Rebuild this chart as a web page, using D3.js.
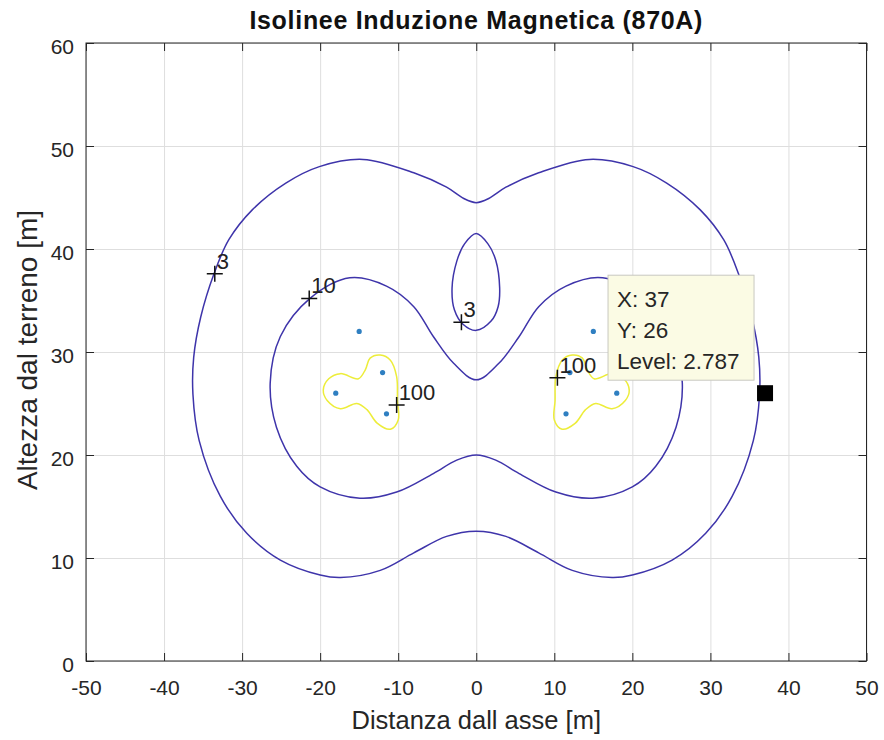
<!DOCTYPE html>
<html>
<head>
<meta charset="utf-8">
<script src="https://cdn.jsdelivr.net/npm/d3@7"></script>
<style>
  html, body { margin: 0; padding: 0; background: #ffffff; }
  svg { display: block; font-family: "Liberation Sans", Arial, Helvetica, sans-serif; }
</style>
</head>
<body>
<svg id="chart" width="884" height="740"></svg>
<script>
// ---------- data ----------
const titleText = "Isolinee Induzione Magnetica (870A)";
const xLabelText = "Distanza dall asse [m]";
const yLabelText = "Altezza dal terreno [m]";

const xTicks = [-50, -40, -30, -20, -10, 0, 10, 20, 30, 40, 50];
const yTicks = [0, 10, 20, 30, 40, 50, 60];

// conductor positions
const conductorX = [-15, -12, -18, -11.5, 15, 12, 18, 11.5];
const conductorY = [32, 28, 26, 24, 32, 28, 26, 24];

// contour lines
const outer3 = [[0,44.5],[1.6,44.9],[3.8,46.0],[8,47.4],[14.5,48.7],[20.1,48.0],[24.4,46.4],[28.7,43.8],[31.7,40.9],[33.6,37.6],[35.3,33.4],[36.2,29.5],[36.3,25.9],[35.5,21.4],[32.8,16.0],[29.4,12.4],[25.1,9.8],[20,8.35],[17.4,8.1],[12.3,8.8],[8,10.5],[3.8,12.1],[0,12.6],[-3.8,12.1],[-8,10.5],[-12.3,8.8],[-17.4,8.1],[-20,8.35],[-25.1,9.8],[-29.4,12.4],[-32.8,16.0],[-35.5,21.4],[-36.3,25.9],[-36.2,29.5],[-35.3,33.4],[-33.6,37.6],[-31.7,40.9],[-28.7,43.8],[-24.4,46.4],[-20.1,48.0],[-14.5,48.7],[-8,47.4],[-3.8,46.0],[-1.6,44.9]];
const inner3 = [[0,41.5],[1.5,40.5],[2.5,38.9],[3,36.2],[2.8,34.4],[1.9,33.0],[0,32.1],[-1.7,32.7],[-2.8,34.1],[-3.1,36.2],[-2.5,38.8],[-1.5,40.5]];
const contour10 = [[0,27.3],[2.9,28.9],[5.5,31.5],[8,34.4],[11.5,36.4],[16.2,37.2],[21.3,35.2],[25.1,31.5],[26.4,27.0],[25.6,22.7],[23,18.9],[20,16.9],[14.9,15.8],[10.2,16.4],[5.5,18.2],[2.5,19.5],[0,20],[-2.5,19.5],[-5.5,18.2],[-10.2,16.4],[-14.9,15.8],[-20,16.9],[-23,18.9],[-25.6,22.7],[-26.4,27.0],[-25.1,31.5],[-21.3,35.2],[-16.2,37.2],[-11.5,36.4],[-8,34.4],[-5.5,31.5],[-2.9,28.9]];
const contour100Left = [[-12.3,29.7],[-11,29.2],[-10.2,27.6],[-10.1,25.3],[-10,23.4],[-11,22.5],[-12.7,23.1],[-14,24.4],[-15.3,25],[-17.4,24.5],[-19.1,25.3],[-19.6,26.3],[-18.9,27.4],[-17.4,27.9],[-15.1,27.4],[-14.2,28.3],[-13.6,29.4]];
const contour100Right = [[12.3,29.7],[13.6,29.4],[14.2,28.3],[15.1,27.4],[17.4,27.9],[18.9,27.4],[19.6,26.3],[19.1,25.3],[17.4,24.5],[15.3,25],[14,24.4],[12.7,23.1],[11,22.5],[10,23.4],[10.1,25.3],[10.2,27.6],[11,29.2]];

// contour labels
const labelText = ["3", "10", "3", "100", "100"];
const labelX = [-33.5, -21.4, -1.9, -10.2, 10.4];
const labelY = [37.6, 35.2, 32.9, 24.85, 27.5];

// data tip
const tipX = 37, tipY = 26, tipLevel = 2.787;

// ---------- drawing ----------
const L = 86, R = 866.5, T = 43, B = 661;
const svg = d3.select("#chart");
const x = d3.scaleLinear().domain([-50, 50]).range([L, R]);
const y = d3.scaleLinear().domain([0, 60]).range([B, T]);

const textCol = "#262626";
const blue = "#3e34aa";
const yellow = "#eded3a";
const fmt = d => String(d);

// grid
svg.append("g").attr("transform", `translate(0,${B})`)
  .call(d3.axisBottom(x).tickValues(xTicks).tickSize(-(B - T)).tickFormat(""))
  .call(g => g.select(".domain").remove())
  .call(g => g.selectAll("line").attr("stroke", "#dedede").attr("stroke-width", 1));
svg.append("g").attr("transform", `translate(${L},0)`)
  .call(d3.axisLeft(y).tickValues(yTicks).tickSize(-(R - L)).tickFormat(""))
  .call(g => g.select(".domain").remove())
  .call(g => g.selectAll("line").attr("stroke", "#dedede").attr("stroke-width", 1));

// contours
const line = d3.line().x(d => x(d[0])).y(d => y(d[1])).curve(d3.curveCatmullRomClosed.alpha(0.5));
[[outer3, blue], [inner3, blue], [contour10, blue], [contour100Left, yellow], [contour100Right, yellow]]
  .forEach(([pts, col]) => {
    svg.append("path").attr("d", line(pts)).attr("fill", "none")
      .attr("stroke", col).attr("stroke-width", 1.5);
  });

// conductors
svg.append("g").selectAll("circle").data(conductorX).join("circle")
  .attr("cx", d => x(d)).attr("cy", (d, i) => y(conductorY[i])).attr("r", 2.6)
  .attr("fill", "#2f7fc1");

// contour labels
const lg = svg.append("g");
labelText.forEach((t, i) => {
  const px = x(labelX[i]), py = y(labelY[i]);
  lg.append("path").attr("d", `M${px - 8},${py}H${px + 8}M${px},${py - 8}V${py + 8}`)
    .attr("stroke", "#111").attr("stroke-width", 1.5);
  lg.append("text").attr("x", px + 2).attr("y", py - 5).attr("font-size", 22)
    .attr("fill", "#222").text(t);
});

// axes (box with inward ticks)
function styleAxis(g) {
  g.select(".domain").remove();
  g.selectAll("line").attr("stroke", textCol).attr("stroke-width", 1);
  g.selectAll("text").attr("fill", textCol).attr("font-size", 21)
    .attr("font-family", "Liberation Sans, Arial, sans-serif");
}
svg.append("g").attr("transform", `translate(0,${B})`)
  .call(d3.axisBottom(x).tickValues(xTicks).tickSizeInner(-8).tickSizeOuter(0).tickFormat(fmt))
  .call(styleAxis)
  .call(g => g.selectAll("text").attr("y", 34).attr("dy", null));
svg.append("g").attr("transform", `translate(0,${T})`)
  .call(d3.axisTop(x).tickValues(xTicks).tickSizeInner(-8).tickSizeOuter(0).tickFormat(""))
  .call(styleAxis);
svg.append("g").attr("transform", `translate(${L},0)`)
  .call(d3.axisLeft(y).tickValues(yTicks).tickSizeInner(-8).tickSizeOuter(0).tickFormat(fmt))
  .call(styleAxis)
  .call(g => g.selectAll("text").attr("x", -12).attr("dy", null).attr("y", 10.5));
svg.append("g").attr("transform", `translate(${R},0)`)
  .call(d3.axisRight(y).tickValues(yTicks).tickSizeInner(-8).tickSizeOuter(0).tickFormat(""))
  .call(styleAxis);
svg.append("rect").attr("x", L).attr("y", T).attr("width", R - L).attr("height", B - T)
  .attr("fill", "none").attr("stroke", textCol).attr("stroke-width", 1);

// title & labels
svg.append("text").attr("x", (L + R) / 2).attr("y", 29).attr("text-anchor", "middle")
  .attr("font-size", 25).attr("font-weight", "bold").attr("letter-spacing", 0.7)
  .attr("fill", "#111").text(titleText);
svg.append("text").attr("x", (L + R) / 2).attr("y", 729).attr("text-anchor", "middle")
  .attr("font-size", 25.5).attr("fill", textCol).text(xLabelText);
svg.append("text").attr("transform", `translate(37,${(T + B) / 2 - 2}) rotate(-90)`)
  .attr("text-anchor", "middle").attr("font-size", 28).attr("fill", textCol).text(yLabelText);

// data tip
const mx = x(tipX), my = y(tipY);
svg.append("rect").attr("x", mx - 8).attr("y", my - 8).attr("width", 16).attr("height", 16).attr("fill", "#000");
const bw = 146, bh = 105;
const bx = mx - 11 - bw, by = my - 13 - bh;
svg.append("rect").attr("x", bx).attr("y", by).attr("width", bw).attr("height", bh)
  .attr("fill", "#fbfbe4").attr("stroke", "#c8c8c0").attr("stroke-width", 1);
const tipLines = [`X: ${tipX}`, `Y: ${tipY}`, `Level: ${tipLevel}`];
svg.append("g").selectAll("text").data(tipLines).join("text")
  .attr("x", bx + 9).attr("y", (d, i) => by + 32 + i * 31)
  .attr("font-size", 22.5).attr("fill", textCol).text(d => d);
</script>
</body>
</html>
